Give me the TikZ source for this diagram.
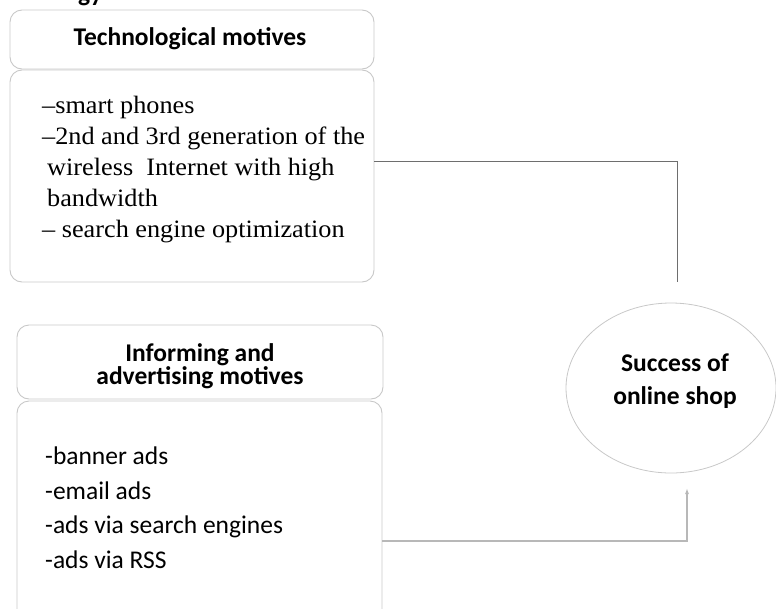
\documentclass[tikz,border=0pt]{standalone}
\usepackage{fontspec}
\setmainfont{Liberation Serif}
\newfontfamily\bodyserif[FakeStretch=1.05]{Liberation Serif}
\newfontfamily\calib{Carlito}
\usetikzlibrary{arrows.meta,shapes.geometric}

\definecolor{boxgray}{HTML}{C8C8C8}
\definecolor{linkdark}{HTML}{6E6E6E}
\definecolor{linklight}{HTML}{B8B8B8}

\begin{document}
\begin{tikzpicture}[x=1pt,y=-1pt,
  panel/.style={draw=boxgray, line width=0.9pt, rounded corners=12pt,
                inner sep=0pt, outer sep=0pt, anchor=north west},
  headtext/.style={font=\calib\bfseries\fontsize{25.5}{21}\selectfont,
                   inner sep=0pt, align=center},
  seriflist/.style={font=\bodyserif\fontsize{25}{31}\selectfont,
                    inner sep=0pt, align=left, anchor=north west},
  sanslist/.style={font=\calib\fontsize{25.5}{34.5}\selectfont,
                   inner sep=0pt, align=left, anchor=north west}]
\useasboundingbox (0,0) rectangle (776,608);
\clip (0,0) rectangle (776,608);

% heading cut at the top edge
\node[font=\calib\bfseries\fontsize{25.5}{30}\selectfont, inner sep=0pt,
      anchor=base west] (pagehead) at (78,1) {gy};

% technological motives
\node[panel, minimum width=364pt, minimum height=59pt] (techhead) at (10,10) {};
\node[panel, minimum width=364pt, minimum height=212pt] (techbody) at (10,70) {};
\node[headtext, anchor=base] (techtitle) at (190,45) {Technological motives};
\node[seriflist] (techlist) at (42,96)
  {–smart phones\\
   –2nd and 3rd generation of the\\
   \hspace{5pt}wireless\ \ Internet with high\\
   \hspace{5pt}bandwidth\\
   – search engine optimization};

% informing and advertising motives
\node[panel, minimum width=366pt, minimum height=74pt] (infohead) at (17,325) {};
\node[panel, minimum width=365pt, minimum height=232pt] (infobody) at (17,401) {};
\node[headtext, anchor=north] (infotitle) at (200,343)
  {Informing and\\advertising motives};
\node[sanslist] (infolist) at (45,447)
  {-banner ads\\-email ads\\-ads via search engines\\-ads via RSS};

% outcome
\node[draw=boxgray, line width=0.8pt, ellipse, minimum width=210pt,
      minimum height=170pt, inner sep=0pt] (success) at (671,388) {};
\node[headtext, font=\calib\bfseries\fontsize{25.5}{33}\selectfont,
      anchor=north] (successtext) at (675,354) {Success of\\online shop};

% connectors
\coordinate (topend) at (677,282);
\coordinate (botend) at (687,488);
\draw[linkdark, line width=0.8pt] ([yshift=15pt]techbody.east) -| (topend);
\draw[linklight, line width=1.5pt, -{Latex[length=6pt,width=4pt]}]
  ([yshift=-24pt]infobody.east) -| (botend);
\end{tikzpicture}
\end{document}
